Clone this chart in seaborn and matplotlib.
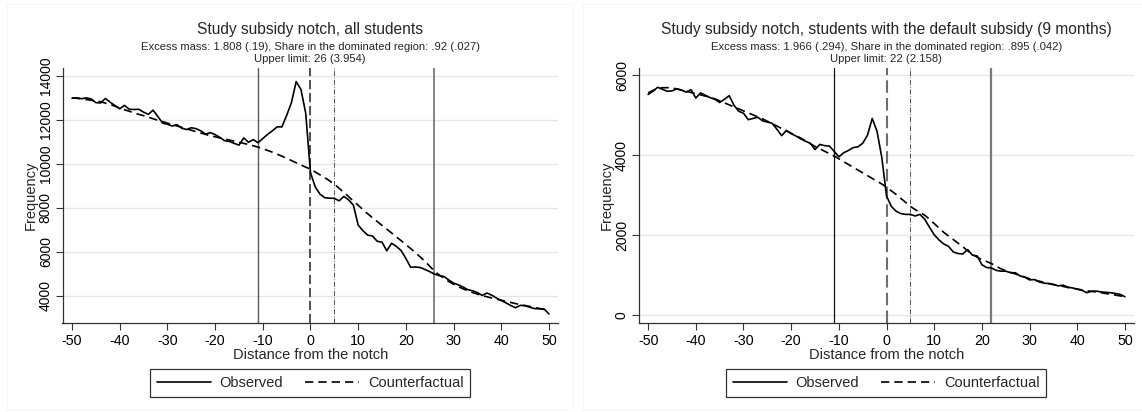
import numpy as np
import pandas as pd
import seaborn as sns
import matplotlib
matplotlib.use("Agg")
import matplotlib.pyplot as plt
from matplotlib.lines import Line2D
from matplotlib.patches import Rectangle

# ---------------- data ----------------
distance = list(range(-50, 51))

observed_all = [
    12980, 13000, 12960, 13000, 12950, 12780, 12770, 12970, 12800, 12650,
    12500, 12660, 12480, 12470, 12480, 12350, 12250, 12440, 12150, 11850,
    11800, 11720, 11780, 11620, 11560, 11640, 11600, 11500, 11350, 11420,
    11330, 11200, 11050, 11020, 10930, 10850, 11180, 10980, 11100, 10960,
    11150, 11340, 11500, 11680, 11680, 12200, 12780, 13740, 13380, 12300,
    9600,
    8950, 8620, 8460, 8440, 8430, 8320, 8520, 8360, 8120, 7220,
    6960, 6760, 6720, 6480, 6440, 6050, 6390, 6250, 6060, 5700,
    5300, 5310, 5290, 5200, 5100, 4990, 4920, 4880, 4720, 4580,
    4500, 4400, 4280, 4230, 4150, 4020, 4130, 4030, 3900, 3790,
    3680, 3560, 3460, 3570, 3550, 3480, 3420, 3410, 3400, 3180,
]
counterfactual_all = [
    13000, 12980, 12950, 12920, 12890, 12860, 12820, 12760, 12700, 12620,
    12530, 12460, 12390, 12320, 12250, 12190, 12120, 12050, 11980, 11920,
    11850, 11790, 11720, 11660, 11590, 11530, 11460, 11400, 11340, 11270,
    11230, 11180, 11130, 11080, 11030, 10980, 10930, 10880, 10820, 10760,
    10690, 10610, 10530, 10440, 10350, 10250, 10150, 10050, 9950, 9850,
    9760,
    9630, 9500, 9370, 9230, 9070, 8890, 8700, 8510, 8310, 8120,
    7920, 7730, 7550, 7380, 7200, 7030, 6860, 6680, 6510, 6330,
    6150, 5960, 5770, 5570, 5350, 5120, 4950, 4800, 4650, 4530,
    4420, 4320, 4230, 4150, 4080, 4010, 3960, 3900, 3850, 3800,
    3750, 3700, 3650, 3600, 3560, 3520, 3470, 3430, 3380, 3340,
]

observed_default = [
    5520, 5600, 5700, 5650, 5600, 5610, 5660, 5630, 5580, 5640,
    5430, 5560, 5500, 5440, 5400, 5320, 5400, 5490, 5250, 5100,
    5050, 4890, 4920, 4950, 4860, 4830, 4800, 4650, 4490, 4620,
    4540, 4480, 4410, 4350, 4300, 4140, 4270, 4240, 4230, 4100,
    3960, 4060, 4120, 4190, 4210, 4300, 4500, 4920, 4600, 3950,
    2980,
    2720, 2600, 2540, 2520, 2520, 2480, 2520, 2400, 2200, 2010,
    1880, 1780, 1720, 1580, 1540, 1530, 1640, 1500, 1480, 1260,
    1190, 1180, 1120, 1100, 1100, 1060, 1060, 980, 950, 880,
    890, 830, 800, 790, 770, 730, 750, 700, 680, 650,
    620, 560, 600, 600, 580, 570, 560, 540, 520, 460,
]
counterfactual_default = [
    5560, 5620, 5670, 5690, 5690, 5680, 5660, 5630, 5600, 5570,
    5540, 5510, 5480, 5450, 5410, 5360, 5310, 5260, 5210, 5160,
    5110, 5060, 5010, 4960, 4910, 4850, 4790, 4730, 4670, 4610,
    4550, 4490, 4430, 4360, 4290, 4220, 4160, 4100, 4040, 3980,
    3910, 3840, 3770, 3700, 3630, 3560, 3490, 3420, 3350, 3280,
    3200,
    3110, 3020, 2920, 2820, 2720, 2640, 2570, 2500, 2400, 2290,
    2180, 2070, 1980, 1890, 1800, 1710, 1610, 1520, 1450, 1390,
    1340, 1290, 1220, 1160, 1110, 1070, 1030, 990, 950, 910,
    880, 850, 820, 790, 760, 740, 720, 690, 670, 650,
    630, 610, 590, 580, 560, 540, 520, 500, 480, 460,
]

titles = ["Study subsidy notch, all students",
          "Study subsidy notch, students with the default subsidy (9 months)"]
subtitles = [
    ["Excess mass: 1.808 (.19), Share in the dominated region: .92 (.027)", "Upper limit: 26 (3.954)"],
    ["Excess mass: 1.966 (.294), Share in the dominated region: .895 (.042)", "Upper limit: 22 (2.158)"],
]
lower_limits = [-11, -11]
upper_limits = [26, 22]
notch = 0
dominated_end = 5
xticks = [-50, -40, -30, -20, -10, 0, 10, 20, 30, 40, 50]
yticks_list = [[4000, 6000, 8000, 10000, 12000, 14000], [0, 2000, 4000, 6000]]
ylims = [(2780, 14370), (-190, 6190)]

# ---------------- style ----------------
sns.set_theme(style="white")
plt.rcParams["font.family"] = ["Liberation Sans", "DejaVu Sans"]

W, H = 1142, 412
fig = plt.figure(figsize=(W / 100, H / 100), dpi=100)

axes_px = [(62.5, 558.0), (638.6, 1134.0)]
top_px, bot_px = 67.7, 322.7

panels = [(observed_all, counterfactual_all), (observed_default, counterfactual_default)]

for i, ((l, r), (obs, cf)) in enumerate(zip(axes_px, panels)):
    ax = fig.add_axes([l / W, 1 - bot_px / H, (r - l) / W, (bot_px - top_px) / H])
    df = pd.DataFrame({"Distance": distance * 2,
                       "Frequency": obs + cf,
                       "series": ["Observed"] * len(distance) + ["Counterfactual"] * len(distance)})
    for yt in yticks_list[i]:
        ax.axhline(yt, color="#e6e6e6", lw=1.0, zorder=0)
    # vertical reference lines
    if i == 0:
        ax.axvline(lower_limits[i], color="#5a5a5a", lw=1.0, zorder=1)
        ax.axvline(notch, color="#222222", lw=1.1, ls=(0, (6, 2.5)), zorder=1)
        ax.axvline(upper_limits[i], color="#6e6e6e", lw=1.2, zorder=1)
    else:
        ax.axvline(lower_limits[i], color="#111111", lw=0.9, zorder=1)
        ax.axvline(notch, color="#6e6e6e", lw=1.5, ls=(0, (6, 2.5)), zorder=1)
        ax.axvline(upper_limits[i], color="#7a7a7a", lw=1.6, zorder=1)
    ax.axvline(dominated_end, color="#333333", lw=0.6, ls=(0, (6, 2, 1, 2)), zorder=1)

    sns.lineplot(data=df, x="Distance", y="Frequency", hue="series", style="series",
                 palette={"Observed": "black", "Counterfactual": "black"},
                 dashes={"Observed": "", "Counterfactual": (5, 3)},
                 linewidth=1.2, ax=ax, legend=False, zorder=3)

    ax.set_xlim(-52, 51.9)
    ax.set_ylim(*ylims[i])
    ax.set_xticks(xticks)
    ax.set_xticklabels([str(t) for t in xticks], fontsize=10.3)
    ax.set_yticks(yticks_list[i])
    ax.set_yticklabels([str(t) for t in yticks_list[i]], fontsize=10, rotation=90, va="center")
    ax.tick_params(axis="both", direction="out", length=5, width=0.8, color="#333333",
                   pad=2, labelcolor="black")
    ax.tick_params(axis="x", bottom=True, pad=3)
    ax.tick_params(axis="y", left=True)
    for s in ["top", "right"]:
        ax.spines[s].set_visible(False)
    for s in ["left", "bottom"]:
        ax.spines[s].set_color("#333333")
        ax.spines[s].set_linewidth(0.9)
    ax.set_xlabel("Distance from the notch", fontsize=10.5, labelpad=0)
    ax.set_ylabel("Frequency", fontsize=10.5, labelpad=1)
    ax.set_facecolor("white")

    cx = (l + r) / 2 / W
    fig.text(cx, 1 - 29.5 / H, titles[i], ha="center", va="center", fontsize=11.2)
    fig.text(cx, 1 - 47.3 / H, subtitles[i][0], ha="center", va="center", fontsize=8.1)
    fig.text(cx, 1 - 58.7 / H, subtitles[i][1], ha="center", va="center", fontsize=8.1)

    handles = [Line2D([], [], color="black", lw=1.2),
               Line2D([], [], color="black", lw=1.2, ls=(0, (5, 3)))]
    leg = fig.legend(handles, ["Observed", "Counterfactual"], ncol=2,
                     loc="center", bbox_to_anchor=(cx, 1 - 383 / H),
                     fontsize=10.5, frameon=True, fancybox=False,
                     handlelength=3.7, columnspacing=1.5, handletextpad=0.6,
                     borderpad=0.45, borderaxespad=0, edgecolor="black")
    leg.get_frame().set_linewidth(0.9)

# faint panel borders
for x0, x1 in [(6.7, 573.3), (582.7, 1149)]:
    fig.patches.append(Rectangle((x0 / W, 1 - 410 / H), (x1 - x0) / W, (410 - 4) / H,
                                 transform=fig.transFigure, fill=False,
                                 edgecolor="#f4f4f4", lw=0.6))

fig.savefig("out.png", dpi=100, facecolor="white")
